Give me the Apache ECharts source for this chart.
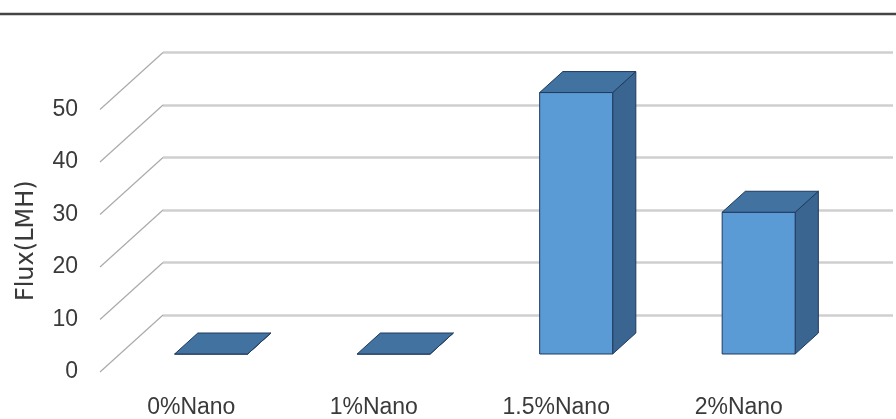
<!DOCTYPE html>
<html>
<head>
<meta charset="utf-8">
<script src="https://cdn.jsdelivr.net/npm/echarts@6/dist/echarts.min.js"></script>
<style>
  html, body { margin: 0; padding: 0; background: #fff; }
  #chart { width: 896px; height: 419px; }
</style>
</head>
<body>
<div id="chart"></div>
<script>
// datos
const categories = ['0%Nano', '1%Nano', '1.5%Nano', '2%Nano'];
const fluxValues = [0, 0, 49.8, 27];
const yTicks = [0, 10, 20, 30, 40, 50];

// perspectiva del grafico 3D (pixeles)
const DEPTH_X = 63;
const DEPTH_Y = 57;
const BAR_FRONT = 0.316; // fraccion de profundidad donde empieza la barra
const BAR_BACK = 0.684;
const FONT = '"Liberation Sans", Arial, sans-serif';
const TEXT_COLOR = '#3a3a3a';

const chart = echarts.init(document.getElementById('chart'));

// pared del fondo
const backGrid = { left: 163, right: 3, top: 52.5, bottom: 104 };
// plano frontal, desplazado por la profundidad
const frontGrid = {
  left: backGrid.left - DEPTH_X,
  right: backGrid.right + DEPTH_X,
  top: backGrid.top + DEPTH_Y,
  bottom: backGrid.bottom - DEPTH_Y
};

function renderBar(params, api) {
  const idx = api.value(0);
  const base = api.coord([idx, 0]);
  const top = api.coord([idx, api.value(1)]);
  const bw = api.size([1, 0])[0] * 0.4;

  const fdx = -DEPTH_X * (1 - BAR_FRONT), fdy = DEPTH_Y * (1 - BAR_FRONT);
  const bdx = -DEPTH_X * (1 - BAR_BACK), bdy = DEPTH_Y * (1 - BAR_BACK);

  const fx0 = base[0] + fdx - bw / 2, fx1 = fx0 + bw;
  const bx0 = base[0] + bdx - bw / 2, bx1 = bx0 + bw;
  const fTop = top[1] + fdy, fBot = base[1] + fdy;
  const bTop = top[1] + bdy, bBot = base[1] + bdy;

  const stroke = '#1f3a5f';
  return {
    type: 'group',
    children: [
      {
        type: 'polygon',
        shape: { points: [[fx1, fTop], [bx1, bTop], [bx1, bBot], [fx1, fBot]] },
        style: { fill: '#3a6590', stroke: stroke, lineWidth: 1 }
      },
      {
        type: 'rect',
        shape: { x: fx0, y: fTop, width: bw, height: fBot - fTop },
        style: { fill: '#5b9bd5', stroke: stroke, lineWidth: 1 }
      },
      {
        type: 'polygon',
        shape: { points: [[fx0, fTop], [fx1, fTop], [bx1, bTop], [bx0, bTop]] },
        style: { fill: '#42729f', stroke: stroke, lineWidth: 1 }
      }
    ]
  };
}

function renderDiagonal(params, api) {
  const cs = params.coordSys;
  const y = api.coord([0, api.value(0)])[1];
  return {
    type: 'line',
    shape: { x1: cs.x, y1: y, x2: cs.x - DEPTH_X, y2: y + DEPTH_Y },
    style: { stroke: '#ababab', lineWidth: 1.2 }
  };
}

const option = {
  backgroundColor: '#ffffff',
  animation: false,
  textStyle: { fontFamily: FONT },
  graphic: [
    {
      type: 'line',
      shape: { x1: 0, y1: 14, x2: 896, y2: 14 },
      style: { stroke: '#454545', lineWidth: 2.5 }
    }
  ],
  grid: [backGrid, frontGrid],
  xAxis: [
    {
      gridIndex: 0,
      type: 'category',
      data: categories,
      axisLine: { show: false },
      axisTick: { show: false },
      axisLabel: { show: false }
    },
    {
      gridIndex: 1,
      type: 'category',
      data: categories,
      axisLine: { show: false },
      axisTick: { show: false },
      axisLabel: {
        margin: 24,
        color: TEXT_COLOR,
        fontSize: 23,
        fontFamily: FONT
      }
    }
  ],
  yAxis: [
    {
      gridIndex: 0,
      type: 'value',
      min: 0,
      max: 50,
      interval: 10,
      axisLine: { show: false },
      axisTick: { show: false },
      axisLabel: { show: false },
      splitLine: { show: true, lineStyle: { color: '#cfcfcf', width: 2.5 } }
    },
    {
      gridIndex: 1,
      type: 'value',
      min: 0,
      max: 50,
      interval: 10,
      name: 'Flux(LMH)',
      nameLocation: 'middle',
      nameGap: 61,
      nameTextStyle: { color: TEXT_COLOR, fontSize: 24, fontFamily: '"DejaVu Sans", sans-serif' },
      axisLine: { show: false },
      axisTick: { show: false },
      splitLine: { show: false },
      axisLabel: {
        margin: 22,
        color: TEXT_COLOR,
        fontSize: 23,
        fontFamily: FONT
      }
    }
  ],
  series: [
    {
      type: 'custom',
      name: 'diagonales',
      xAxisIndex: 0,
      yAxisIndex: 0,
      renderItem: renderDiagonal,
      data: yTicks.map(v => [v]),
      z: 1,
      silent: true
    },
    {
      type: 'custom',
      name: 'Flux',
      xAxisIndex: 0,
      yAxisIndex: 0,
      renderItem: renderBar,
      data: fluxValues.map((v, i) => [i, v]),
      z: 2
    }
  ]
};

chart.setOption(option);
</script>
</body>
</html>
